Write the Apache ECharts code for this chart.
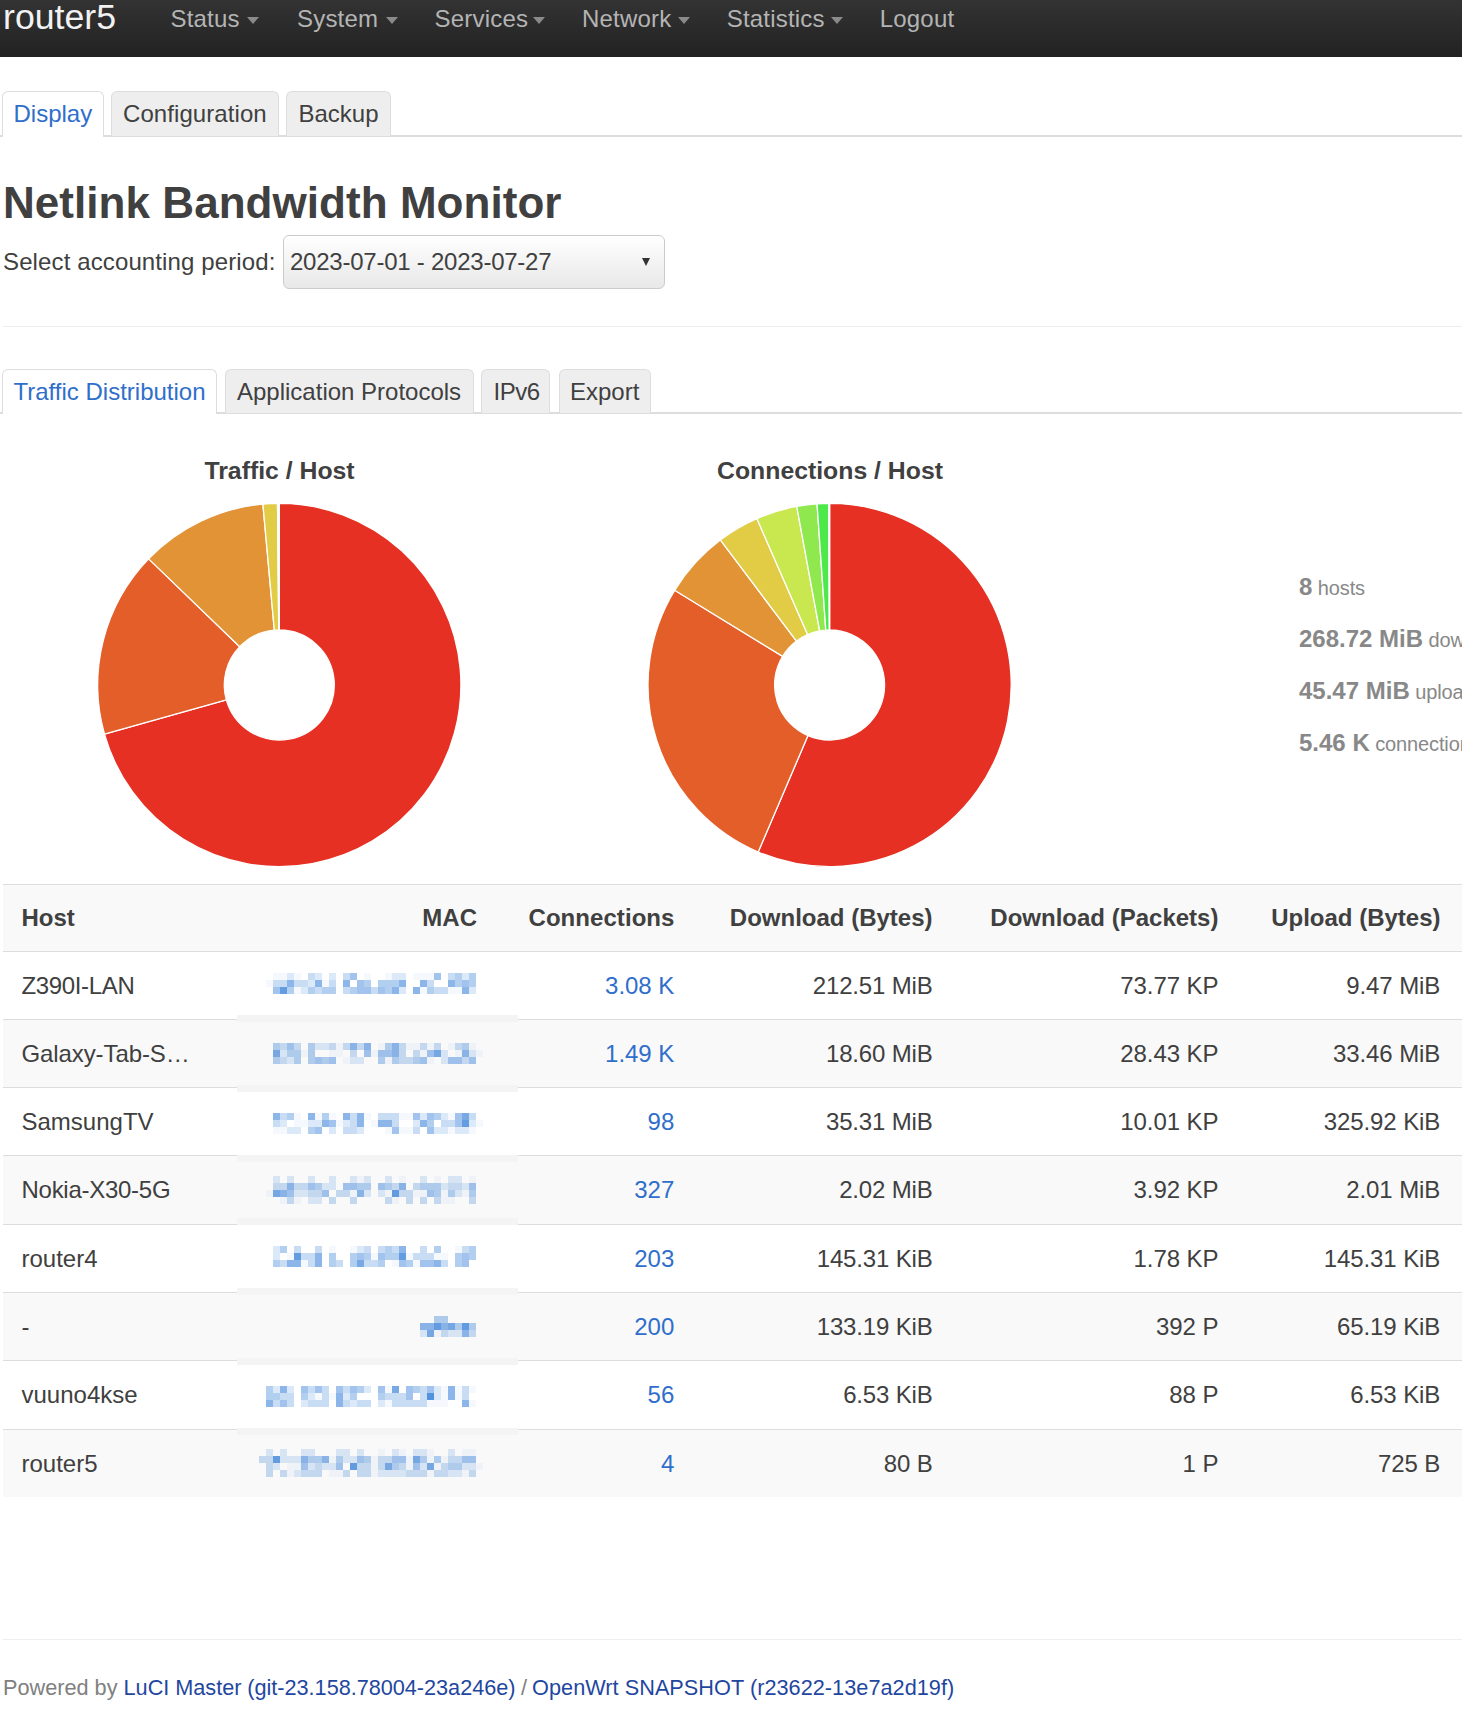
<!DOCTYPE html>
<html><head><meta charset="utf-8"><title>Netlink Bandwidth Monitor</title>
<style>
html,body{margin:0;padding:0;background:#fff;width:1462px;height:1723px;overflow:hidden;font-family:"Liberation Sans",Arial,sans-serif;color:#404040}
.a{position:absolute;white-space:nowrap}
#page{position:absolute;left:0;top:0;width:1462px;height:1723px;overflow:hidden}
#chart{position:absolute;left:0;top:440px;width:1100px;height:440px}
.tab{position:absolute;box-sizing:border-box;border:1px solid #ddd;border-bottom:none;border-radius:6px 6px 0 0;background:#eee}
.tab.on{background:#fff}
</style></head><body><div id="page"><div id="chart"></div></div>
<script src="https://cdn.jsdelivr.net/npm/echarts@6/dist/echarts.min.js"></script>
<script>
const hosts=["Z390I-LAN","Galaxy-Tab-S…","SamsungTV","Nokia-X30-5G","router4","-","vuuno4kse","router5"];
const connectionCounts=[3080,1490,98,327,203,200,56,4];
const connectionLabels=["3.08 K","1.49 K","98","327","203","200","56","4"];
const downloadBytesLabels=["212.51 MiB","18.60 MiB","35.31 MiB","2.02 MiB","145.31 KiB","133.19 KiB","6.53 KiB","80 B"];
const downloadPacketsLabels=["73.77 KP","28.43 KP","10.01 KP","3.92 KP","1.78 KP","392 P","88 P","1 P"];
const uploadBytesLabels=["9.47 MiB","33.46 MiB","325.92 KiB","2.01 MiB","145.31 KiB","65.19 KiB","6.53 KiB","725 B"];
const downloadMiB=[212.51,18.60,35.31,2.02,0.1419,0.1301,0.00638,0.00008];
const uploadMiB=[9.47,33.46,0.3183,2.01,0.1419,0.0637,0.00638,0.00069];
const sliceColors=["#e53023","#e45e2a","#e19335","#e2cb45","#c9e84f","#90e84f","#4de84a","#4de887"];
const columnHeaders=["Host","MAC","Connections","Download (Bytes)","Download (Packets)","Upload (Bytes)"];
const navItems=["Status","System","Services","Network","Statistics","Logout"];
const stats=[["8","hosts"],["268.72 MiB","download"],["45.47 MiB","upload"],["5.46 K","connections"]];
// Pixelated (obscured) MAC cells, shade 0-9 per 7px cell, first cell at x=259
const macMasks=[
 ["0"+"0112103202"+"0350100122"+"0111503424","0"+"1336332613"+"0605404446"+"0063006454","0"+"0584124344"+"0345535462"+"0614331162"],
 ["0"+"0435304223"+"1363601463"+"1131301341","0"+"0724414001"+"1030515563"+"0315720162"+"1","0"+"0432404545"+"0122004143"+"3451025535"],
 ["0"+"0634106141"+"0636103331"+"1525421573","0"+"0320112265"+"1236016630"+"0264033582"+"1","0"+"0112204502"+"0332000151"+"1305221221"],
 ["0"+"0202002002"+"0021200201"+"0020102201","0"+"0336335422"+"0554405436"+"0344423325","0"+"1765223350"+"3316202183"+"3115414214","0"+"0013102203"+"0030000310"+"3030311003"],
 ["0"+"0240300301"+"0012303436"+"0030400134","0"+"0201833604"+"0045415448"+"1333110454","0"+"0436613604"+"3047334015"+"4155630450"],
 ["0000000000000000000000000440000","0000000000000000000000066867484","0000000000000000000000027132263"],
 ["0"+"4262053530"+"5354205170"+"5435216131","0"+"4433042131"+"6240004333"+"5039216130","0"+"6353023330"+"6323302133"+"3331110061"],
 ["0"+"2020022000"+"2202001021"+"0221002011","3"+"3822264461"+"4225413355"+"1741413355","0"+"3201152322"+"5083313743"+"1527134422"+"1","0"+"3031233301"+"1303312222"+"3331332213"]
];
const macTops=[973,1043,1113,1176,1246,1316,1386,1449];
const rowLines=[951,1019,1087,1155,1224,1292,1360,1429];

const page=document.getElementById('page');
function box(l,t,w,h,css){const d=document.createElement('div');d.className='a';d.style.cssText=`left:${l}px;top:${t}px;width:${w}px;height:${h}px;${css||''}`;page.appendChild(d);return d;}
function txt(x,cy,s,o){o=o||{};const d=document.createElement('div');d.className='a';d.textContent=s;
 const size=o.size||24, lh=o.lh||40;
 d.style.cssText=`${o.right?`right:${1462-x}px`:`left:${x}px`};top:${cy-lh/2}px;height:${lh}px;line-height:${lh}px;font-size:${size}px;color:${o.color||'#404040'};font-weight:${o.bold?'bold':'normal'};letter-spacing:${o.ls||0}px;`;
 page.appendChild(d);return d;}

// Navbar
box(0,0,1462,57,'background:linear-gradient(#333,#222)');
txt(3,17,"router5",{size:35.7,color:'#f2f2f2',lh:34});
const navX=[170.5,297,434.6,582,726.7,879.7], caretX=[247,386,532.5,678,831];
navItems.forEach((n,i)=>{txt(navX[i],19,n,{color:'#b4b4b4',ls:0.2,lh:38});
 if(i<5)box(caretX[i],16.5,0,0,'border-left:6.5px solid transparent;border-right:6.5px solid transparent;border-top:7px solid #8a8a8a');});

// Tabs
function tabs(top,bottom,list){
 box(0,bottom-2,1462,2,'background:#ddd');
 list.forEach((t,i)=>{const d=document.createElement('div');d.className='tab'+(i==0?' on':'');
  d.style.cssText=`left:${t[1]}px;top:${top}px;width:${t[2]-t[1]}px;height:${bottom-top-(i==0?0:1)}px;`;page.appendChild(d);
  txt(t[3],(top+bottom)/2,t[0],{color:i==0?'#2f6fcb':'#404040',ls:t[4]||0});});
}
tabs(91,137,[["Display",2,104,13.5],["Configuration",111,279,123,0.08],["Backup",286,391,298.5]]);
tabs(369,414,[["Traffic Distribution",2,217,13.5],["Application Protocols",225,474,237],["IPv6",480.5,550,493.6,-0.5],["Export",558.5,651,570]]);

// Heading + period select
txt(3,203,"Netlink Bandwidth Monitor",{size:44,bold:true,ls:0.05});
txt(3,262,"Select accounting period:",{ls:0.12});
box(283,235,381.5,54,'box-sizing:border-box;border:1px solid #ccc;border-radius:6px;background:linear-gradient(#fff,#e8e8e8)');
txt(290,262,"2023-07-01 - 2023-07-27",{ls:-0.24});
box(641.5,258,0,0,'border-left:4px solid transparent;border-right:4px solid transparent;border-top:8px solid #333');
box(3,326,1459,1,'background:#eee');

// Table backgrounds
box(3,885,1459,66,'background:#f9f9f9');
box(3,884,1459,1,'background:#ddd');
rowLines.forEach((y,i)=>{const bottom=i<7?rowLines[i+1]:1497;
 if(i%2==1)box(3,y,1459,bottom-y,'background:#f9f9f9');
 box(3,y,1459,1,'background:#ddd');});
// Obscured MAC column strip
const bands=[1015,1085,1155,1218,1288,1358,1428];
box(237,952,281,63,'background:#fff');
bands.forEach((y,i)=>{const next=i<6?bands[i+1]:1497;
 box(237,y+7,281,next-y-7,`background:${i%2==0?'#f9f9f9':'#fff'}`);
 box(237,y,281,7,'background:#f4f4f4');});
const shadeAlpha=[0,0.05,0.17,0.27,0.37,0.46,0.56,0.66,0.76,0.84];
macMasks.forEach((lines,r)=>lines.forEach((line,l)=>{[...line].forEach((c,k)=>{const v=+c;
 if(v)box(259+k*7,macTops[r]+l*7,7,7,`background:rgba(50,125,215,${shadeAlpha[v]})`);});}));

// Table text
const colRight=[477,674.5,932.5,1218.4,1440.5];
const hostSpacing=[-0.35,-0.1,0,-0.27,0,0,0,0];
const hy=917.5;
txt(21.5,hy,columnHeaders[0],{bold:true});
colRight.forEach((x,i)=>txt(x,hy,columnHeaders[i+1],{bold:true,right:true,ls:i==1?0.06:0}));
hosts.forEach((h,i)=>{const cy=985.5+68.3*i;
 txt(21.5,cy,h,{ls:hostSpacing[i]});
 txt(colRight[1]-0.3,cy,connectionLabels[i],{right:true,color:'#2f6fcb',ls:-0.05});
 txt(colRight[2],cy,downloadBytesLabels[i],{right:true,ls:-0.17});
 txt(colRight[3],cy,downloadPacketsLabels[i],{right:true,ls:-0.08});
 txt(colRight[4]-0.3,cy,uploadBytesLabels[i],{right:true,ls:-0.1});
});

// Side stats
const statY=[587,639,691,743];
stats.forEach((s,i)=>{const d=txt(1299,statY[i],"",{color:'#888'});
 const b=document.createElement('b');b.textContent=s[0];
 const sp=document.createElement('span');sp.textContent=' '+s[1];sp.style.cssText='font-size:20px;letter-spacing:-0.12px';
 d.appendChild(b);d.appendChild(sp);});

// Footer
box(3,1639,1459,1,'background:#eee');
const f=txt(3,1688,"",{color:'#808080',size:21.7});
f.innerHTML='Powered by <span style="color:#1f47a0;letter-spacing:-0.03px">LuCI Master (git-23.158.78004-23a246e)</span><span style="letter-spacing:-0.5px"> / </span><span style="color:#1f47a0;letter-spacing:0.03px">OpenWrt SNAPSHOT (r23622-13e7a2d19f)</span>';

// Pies
const trafficMiB=downloadMiB.map((d,i)=>d+uploadMiB[i]);
function slices(values){return values.map((v,i)=>[v,hosts[i]]).sort((a,b)=>b[0]-a[0]).map((p,i)=>({value:p[0],name:p[1],itemStyle:{color:sliceColors[i]}}));}
function pie(center,values){return {type:'pie',center:center,radius:[55,181.6],startAngle:90,clockwise:true,minAngle:0,
 label:{show:false},labelLine:{show:false},silent:true,animation:false,
 itemStyle:{borderColor:'#fff',borderWidth:1.3},data:slices(values)};}
const chart=echarts.init(document.getElementById('chart'),null,{renderer:'svg'});
const titleStyle={fontFamily:'Liberation Sans',fontSize:24.8,fontWeight:'bold',color:'#404040'};
chart.setOption({animation:false,
 title:[
  {text:"Traffic / Host",left:279.5,top:17.7,padding:0,textAlign:'center',textStyle:titleStyle},
  {text:"Connections / Host",left:830,top:17.7,padding:0,textAlign:'center',textStyle:titleStyle}],
 series:[pie([279.3,245],trafficMiB),pie([829.6,245],connectionCounts)]});
</script></body></html>
